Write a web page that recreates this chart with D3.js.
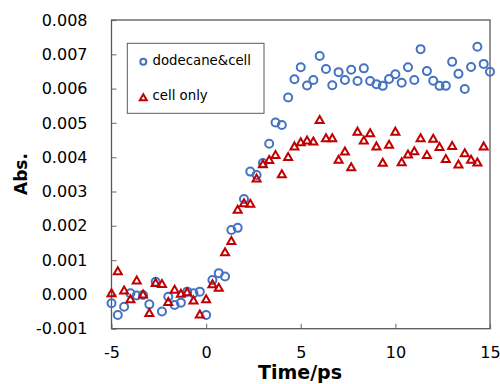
<!DOCTYPE html>
<html>
<head>
<meta charset="utf-8">
<script src="https://cdn.jsdelivr.net/npm/d3@7"></script>
<style>
  body { margin: 0; background: #fff; }
  text { font-family: "DejaVu Sans", Verdana, sans-serif; fill: #000; }
</style>
</head>
<body>
<div id="chart"></div>
<script>
const w = 500;
const h = 384;

// time in ps: -5 .. 15 every 1/3 ps
const times = d3.range(61).map((k) => -5 + k / 3);

const xTicks = [-5, 0, 5, 10, 15];
const yTicks = [-0.001, 0, 0.001, 0.002, 0.003, 0.004, 0.005, 0.006, 0.007, 0.008];

// absorbance x 1e-3
const dodecaneCell = [
  -0.26, -0.6, -0.36, 0.03, -0.03, -0.02, -0.29, 0.37, -0.5, -0.07,
  -0.31, -0.24, 0.08, 0.03, 0.08, -0.6, 0.42, 0.62, 0.52, 1.88,
  1.94, 2.78, 3.58, 3.48, 3.83, 4.39, 5.01, 4.94, 5.74, 6.27,
  6.62, 6.09, 6.25, 6.95, 6.57, 6.1, 6.48, 6.25, 6.55, 6.22,
  6.59, 6.22, 6.13, 6.08, 6.28, 6.42, 6.17, 6.62, 6.25, 7.15,
  6.51, 6.23, 6.08, 6.08, 6.78, 6.43, 5.99, 6.63, 7.22, 6.72,
  6.49,
];
const cellOnly = [
  0.05, 0.69, 0.13, -0.13, 0.42, 0.01, -0.53, 0.35, 0.32, -0.21,
  0.15, 0.03, 0.08, -0.16, -0.57, -0.13, 0.31, 0.21, 1.24, 1.57,
  2.48, 2.67, 2.66, 3.39, 3.81, 3.93, 4.08, 3.52, 4.02, 4.33,
  4.45, 4.5, 4.47, 5.1, 4.57, 4.57, 3.94, 4.18, 3.72, 4.76,
  4.5, 4.71, 4.33, 3.85, 4.38, 4.76, 3.87, 4.09, 4.19, 4.57,
  4.08, 4.55, 4.31, 3.96, 4.34, 3.8, 4.13, 3.94, 3.86, 4.33,
];

const plot = { left: 111.5, right: 490, top: 20, bottom: 328.7 };

const svg = d3.select("#chart").append("svg").attr("width", w).attr("height", h);

const x = d3.scaleLinear().domain([-5, 15]).range([plot.left, plot.right]);
const y = d3.scaleLinear().domain([-0.001, 0.008]).range([plot.bottom, plot.top]);

const xAxis = svg
  .append("g")
  .attr("transform", `translate(0,${plot.bottom})`)
  .call(d3.axisBottom(x).tickValues(xTicks).tickSize(-5).tickPadding(18).tickFormat((d) => String(d)));
const yAxis = svg
  .append("g")
  .attr("transform", `translate(${plot.left},0)`)
  .call(d3.axisLeft(y).tickValues(yTicks).tickSize(-5).tickPadding(24).tickFormat((d) => d.toFixed(3)));

[xAxis, yAxis].forEach((a) => {
  a.select(".domain").remove();
  a.selectAll(".tick line").attr("stroke", "#808080").attr("stroke-width", 1.2);
  a.selectAll(".tick text").attr("font-size", 16).attr("fill", "#000").attr("font-family", '"DejaVu Sans", Verdana, sans-serif');
});

svg
  .append("rect")
  .attr("x", plot.left)
  .attr("y", plot.top)
  .attr("width", plot.right - plot.left)
  .attr("height", plot.bottom - plot.top)
  .attr("fill", "none")
  .attr("stroke", "#595959")
  .attr("stroke-width", 1.3);

function tri(cx, cy, tw, th) {
  return `M${cx},${cy - th / 2}L${cx + tw / 2},${cy + th / 2}L${cx - tw / 2},${cy + th / 2}Z`;
}

const blue = "#4472C4";
const red = "#C00000";

svg
  .append("g")
  .selectAll("circle")
  .data(dodecaneCell)
  .enter()
  .append("circle")
  .attr("cx", (d, i) => x(times[i]))
  .attr("cy", (d) => y(d / 1000))
  .attr("r", 4)
  .attr("fill", "none")
  .attr("stroke", blue)
  .attr("stroke-width", 2);

svg
  .append("g")
  .selectAll("path")
  .data(cellOnly)
  .enter()
  .append("path")
  .attr("d", (d, i) => tri(x(times[i]), y(d / 1000), 8, 7))
  .attr("fill", "none")
  .attr("stroke", red)
  .attr("stroke-width", 2)
  .attr("stroke-linejoin", "miter");

// legend
const legend = svg.append("g");
legend
  .append("rect")
  .attr("x", 127.3)
  .attr("y", 43.3)
  .attr("width", 136.7)
  .attr("height", 70)
  .attr("fill", "#fff")
  .attr("stroke", "#595959")
  .attr("stroke-width", 1);
legend.append("circle").attr("cx", 143.3).attr("cy", 61.7).attr("r", 3).attr("fill", "none").attr("stroke", blue).attr("stroke-width", 2);
legend.append("path").attr("d", tri(143.3, 97.3, 7, 6)).attr("fill", "none").attr("stroke", red).attr("stroke-width", 2);
legend.append("text").attr("x", 152.5).attr("y", 65).attr("font-size", 13.3).text("dodecane&cell");
legend.append("text").attr("x", 152.5).attr("y", 100).attr("font-size", 13.3).text("cell only");

// axis titles
svg
  .append("text")
  .attr("x", 300)
  .attr("y", 379)
  .attr("text-anchor", "middle")
  .attr("font-size", 19)
  .attr("font-weight", "bold")
  .text("Time/ps");
svg
  .append("text")
  .attr("transform", "translate(27,174) rotate(-90)")
  .attr("text-anchor", "middle")
  .attr("font-size", 17)
  .attr("font-weight", "bold")
  .text("Abs.");
</script>
</body>
</html>
